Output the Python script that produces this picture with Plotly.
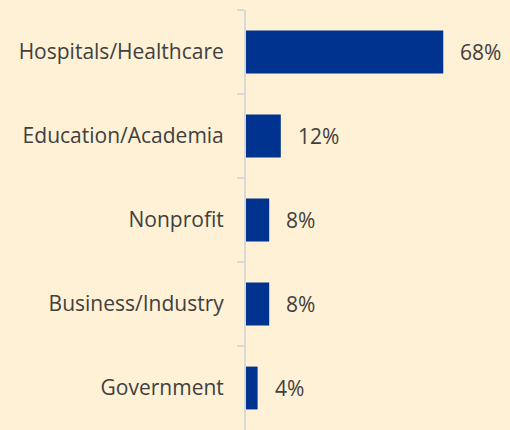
import plotly.graph_objects as go

categories = ["Hospitals/Healthcare", "Education/Academia", "Nonprofit", "Business/Industry", "Government"]
values = [68, 12, 8, 8, 4]
labels = ["68%", "12%", "8%", "8%", "4%"]

bg = "#FFF1D6"
fig = go.Figure(go.Bar(
    x=values, y=categories, orientation="h",
    marker=dict(color="#00338F", line=dict(width=0)),
    hoverinfo="skip",
))
for c, v, t in zip(categories, values, labels):
    fig.add_annotation(x=v, y=c, text=t, showarrow=False, xanchor="left",
                       xshift=15, font=dict(size=21, color="#404040", family="Open Sans"))

fig.update_layout(
    width=510, height=430,
    margin=dict(l=246, r=0, t=10, b=0),
    paper_bgcolor=bg, plot_bgcolor=bg,
    bargap=0.49,
    showlegend=False,
    font=dict(family="Open Sans", size=21, color="#404040"),
    xaxis=dict(range=[0, 91], showgrid=False, showticklabels=False, zeroline=False, showline=False),
    yaxis=dict(autorange="reversed", showline=True, linecolor="#D9D9D9", linewidth=2,
               ticks="outside", tickson="boundaries", ticklen=7, tickcolor="#D9D9D9", tickwidth=2,
               ticklabelstandoff=16, showgrid=False),
)
fig.write_html("out.html", config={"displayModeBar": False},
               post_script="document.body.style.margin='0';document.body.style.overflow='hidden';")
